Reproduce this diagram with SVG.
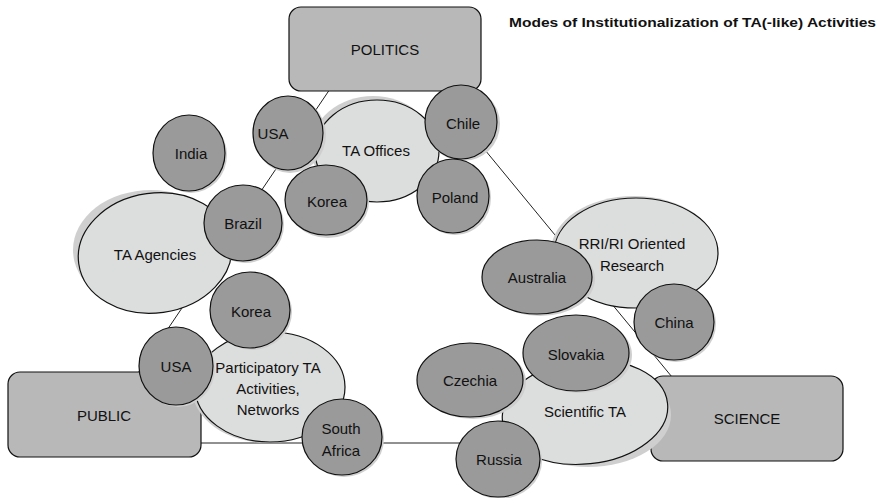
<svg xmlns="http://www.w3.org/2000/svg" width="881" height="498" viewBox="0 0 881 498">
  <style>
    text { font-family: "Liberation Sans", Arial, sans-serif; font-size: 15px; fill: #111; text-anchor: middle; dominant-baseline: central; }
    .title { font-weight: bold; font-size: 13px; text-anchor: start; dominant-baseline: auto; }
    .link { stroke: #222; stroke-width: 1; fill: none; }
    .box { fill: #b8b8b8; stroke: #111; stroke-width: 1.2; }
    .mode { fill: #dcdddd; stroke: #111; stroke-width: 1.2; }
    .country { fill: #9a9a9a; stroke: #111; stroke-width: 1.2; }
    .shade { fill: #cfcfcf; stroke: none; }
  </style>

  <text class="title" x="509" y="27" textLength="367" lengthAdjust="spacingAndGlyphs">Modes of Institutionalization of TA(-like) Activities</text>

  <!-- triangle of links between the three spheres -->
  <g id="links">
    <line class="link" x1="330" y1="89" x2="136" y2="376"/>
    <line class="link" x1="200" y1="443" x2="462" y2="443"/>
    <line class="link" x1="485" y1="150" x2="672" y2="377"/>
  </g>

  <!-- spheres -->
  <g id="politics">
    <rect class="box" x="289" y="7" width="192" height="84" rx="12"/>
    <text x="385" y="49">POLITICS</text>
  </g>
  <g id="public">
    <rect class="box" x="8" y="372" width="193" height="85" rx="12"/>
    <text x="104" y="415">PUBLIC</text>
  </g>
  <g id="science">
    <rect class="box" x="651" y="376" width="192" height="85" rx="12"/>
    <text x="747" y="418">SCIENCE</text>
  </g>

  <!-- modes of institutionalization -->
  <g id="ta-offices">
    <ellipse class="shade" cx="373" cy="148" rx="62" ry="52"/>
    <ellipse class="mode" cx="377" cy="151" rx="62" ry="51"/>
    <text x="376" y="150">TA Offices</text>
  </g>
  <g id="ta-agencies">
    <ellipse class="shade" cx="151" cy="250" rx="78" ry="60"/>
    <ellipse class="mode" cx="155" cy="253" rx="77" ry="60" transform="rotate(-8 155 253)"/>
    <text x="155" y="254">TA Agencies</text>
  </g>
  <g id="participatory">
    <ellipse class="shade" cx="268" cy="388" rx="76" ry="55"/>
    <ellipse class="mode" cx="270" cy="387" rx="75" ry="55"/>
    <text x="268" y="367">Participatory TA</text>
    <text x="268" y="388">Activities,</text>
    <text x="268" y="409">Networks</text>
  </g>
  <g id="rri">
    <ellipse class="shade" cx="634" cy="251" rx="83" ry="55"/>
    <ellipse class="mode" cx="636" cy="253" rx="82" ry="55"/>
    <text x="632" y="243">RRI/RI Oriented</text>
    <text x="632" y="265">Research</text>
  </g>
  <g id="scientific-ta">
    <ellipse class="shade" cx="588" cy="415" rx="83" ry="52"/>
    <ellipse class="mode" cx="585" cy="412" rx="83" ry="52" transform="rotate(-6 585 412)"/>
    <text x="585" y="411">Scientific TA</text>
  </g>

  <!-- countries -->
  <g id="usa-offices">
    <ellipse class="shade" cx="290" cy="135" rx="36" ry="38"/>
    <ellipse class="country" cx="288" cy="133" rx="35" ry="37"/>
    <text x="273" y="133">USA</text>
  </g>
  <g id="chile">
    <ellipse class="shade" cx="463" cy="124" rx="37" ry="37"/>
    <ellipse class="country" cx="461" cy="122" rx="36" ry="37"/>
    <text x="463" y="123">Chile</text>
  </g>
  <g id="korea-offices">
    <ellipse class="shade" cx="328" cy="202" rx="41" ry="36"/>
    <ellipse class="country" cx="326" cy="200" rx="41" ry="35"/>
    <text x="327" y="201">Korea</text>
  </g>
  <g id="poland">
    <ellipse class="shade" cx="455" cy="198" rx="36" ry="37"/>
    <ellipse class="country" cx="453" cy="196" rx="36" ry="37"/>
    <text x="455" y="197">Poland</text>
  </g>
  <g id="india">
    <ellipse class="shade" cx="191" cy="155" rx="36" ry="38"/>
    <ellipse class="country" cx="189" cy="153" rx="36" ry="38"/>
    <text x="191" y="153">India</text>
  </g>
  <g id="brazil">
    <ellipse class="shade" cx="245" cy="225" rx="39" ry="38"/>
    <ellipse class="country" cx="243" cy="223" rx="39" ry="38"/>
    <text x="243" y="223">Brazil</text>
  </g>
  <g id="korea-participatory">
    <ellipse class="shade" cx="252" cy="312" rx="40" ry="38"/>
    <ellipse class="country" cx="250" cy="310" rx="40" ry="38"/>
    <text x="251" y="311">Korea</text>
  </g>
  <g id="usa-participatory">
    <ellipse class="shade" cx="178" cy="368" rx="37" ry="39"/>
    <ellipse class="country" cx="176" cy="366" rx="37" ry="39"/>
    <text x="176" y="366">USA</text>
  </g>
  <g id="south-africa">
    <ellipse class="shade" cx="344" cy="439" rx="40" ry="38"/>
    <ellipse class="country" cx="342" cy="437" rx="40" ry="38"/>
    <text x="341" y="428">South</text>
    <text x="341" y="450">Africa</text>
  </g>
  <g id="australia">
    <ellipse class="shade" cx="540" cy="279" rx="55" ry="37"/>
    <ellipse class="country" cx="537" cy="277" rx="55" ry="37"/>
    <text x="537" y="277">Australia</text>
  </g>
  <g id="china">
    <ellipse class="shade" cx="676" cy="324" rx="40" ry="38"/>
    <ellipse class="country" cx="674" cy="322" rx="40" ry="38"/>
    <text x="674" y="322">China</text>
  </g>
  <g id="slovakia">
    <ellipse class="shade" cx="579" cy="355" rx="53" ry="38"/>
    <ellipse class="country" cx="576" cy="353" rx="53" ry="38"/>
    <text x="576" y="354">Slovakia</text>
  </g>
  <g id="czechia">
    <ellipse class="shade" cx="473" cy="382" rx="53" ry="37"/>
    <ellipse class="country" cx="470" cy="380" rx="53" ry="37"/>
    <text x="470" y="380">Czechia</text>
  </g>
  <g id="russia">
    <ellipse class="shade" cx="500" cy="461" rx="42" ry="38"/>
    <ellipse class="country" cx="498" cy="459" rx="42" ry="38"/>
    <text x="499" y="459">Russia</text>
  </g>
</svg>
